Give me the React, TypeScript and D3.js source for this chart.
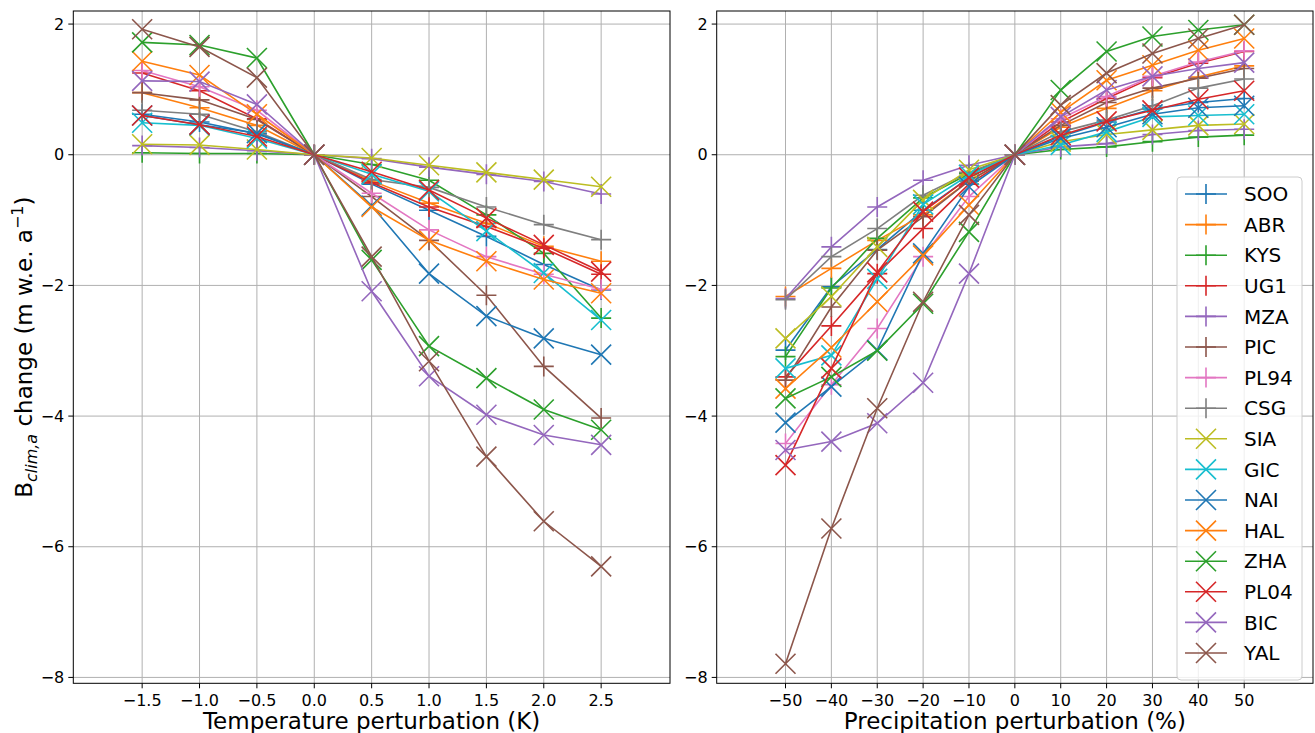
import * as d3 from "d3";

const stations = ["SOO", "ABR", "KYS", "UG1", "MZA", "PIC", "PL94", "CSG", "SIA", "GIC", "NAI", "HAL", "ZHA", "PL04", "BIC", "YAL"];
const markerKinds = ["+", "+", "+", "+", "+", "+", "+", "+", "x", "x", "x", "x", "x", "x", "x", "x"];
const palette = ["#1f77b4", "#ff7f0e", "#2ca02c", "#d62728", "#9467bd", "#8c564b", "#e377c2", "#7f7f7f", "#bcbd22", "#17becf"];

const tempSteps = [-1.5, -1.0, -0.5, 0, 0.5, 1.0, 1.5, 2.0, 2.5];
const precipSteps = [-50, -40, -30, -20, -10, 0, 10, 20, 30, 40, 50];
const yTicks = [-8, -6, -4, -2, 0, 2];

// temperature perturbation response per station
const tempSOO = [0.62, 0.5, 0.32, 0, -0.45, -0.85, -1.25, -1.68, -2.07];
const tempABR = [0.95, 0.72, 0.45, 0, -0.4, -0.74, -1.05, -1.4, -1.63];
const tempKYS = [0.03, 0.02, 0.02, 0, -0.15, -0.39, -0.92, -1.51, -2.5];
const tempUG1 = [1.25, 0.98, 0.55, 0, -0.43, -0.8, -1.1, -1.43, -1.83];
const tempMZA = [0.14, 0.11, 0.06, 0, -0.06, -0.19, -0.3, -0.41, -0.6];
const tempPIC = [0.95, 0.84, 0.54, 0, -0.64, -1.31, -2.15, -3.24, -4.03];
const tempPL94 = [1.29, 1.04, 0.68, 0, -0.59, -1.15, -1.56, -1.83, -2.06];
const tempCSG = [0.68, 0.62, 0.35, 0, -0.38, -0.5, -0.8, -1.07, -1.3];
const tempSIA = [0.16, 0.15, 0.08, 0, -0.05, -0.16, -0.27, -0.38, -0.49];
const tempGIC = [0.49, 0.45, 0.25, 0, -0.3, -0.56, -1.17, -1.81, -2.53];
const tempNAI = [0.6, 0.46, 0.33, 0, -0.78, -1.82, -2.47, -2.81, -3.06];
const tempHAL = [1.43, 1.22, 0.62, 0, -0.8, -1.31, -1.63, -1.91, -2.12];
const tempZHA = [1.72, 1.68, 1.48, 0, -1.61, -2.93, -3.42, -3.9, -4.21];
const tempPL04 = [0.6, 0.46, 0.28, 0, -0.26, -0.54, -0.97, -1.38, -1.79];
const tempBIC = [1.13, 1.12, 0.77, 0, -2.09, -3.39, -3.98, -4.29, -4.44];
const tempYAL = [1.92, 1.65, 1.18, 0, -1.56, -3.16, -4.62, -5.61, -6.3];

// precipitation perturbation response per station
const precSOO = [-2.99, -2.02, -1.45, -0.85, -0.35, 0, 0.28, 0.5, 0.7, 0.8, 0.86];
const precABR = [-2.17, -1.74, -1.31, -0.92, -0.4, 0, 0.42, 0.71, 0.98, 1.19, 1.36];
const precKYS = [-3.09, -2.04, -1.28, -0.66, -0.29, 0, 0.08, 0.12, 0.2, 0.27, 0.3];
const precUG1 = [-3.4, -2.62, -1.82, -1.13, -0.45, 0, 0.5, 0.86, 1.18, 1.4, 1.58];
const precMZA = [-2.2, -1.41, -0.8, -0.39, -0.16, 0, 0.12, 0.17, 0.31, 0.37, 0.39];
const precPIC = [-3.45, -2.33, -1.46, -0.95, -0.4, 0, 0.45, 0.8, 1.02, 1.17, 1.32];
const precPL94 = [-4.42, -3.52, -2.66, -1.56, -0.64, 0, 0.55, 0.89, 1.2, 1.42, 1.59];
const precCSG = [-2.22, -1.56, -1.13, -0.62, -0.27, 0, 0.35, 0.53, 0.75, 1.02, 1.16];
const precSIA = [-2.81, -2.17, -1.41, -0.69, -0.23, 0, 0.2, 0.31, 0.38, 0.45, 0.47];
const precGIC = [-3.27, -3.07, -1.9, -0.76, -0.31, 0, 0.15, 0.35, 0.58, 0.6, 0.62];
const precNAI = [-4.1, -3.55, -2.99, -1.51, -0.49, 0, 0.25, 0.42, 0.62, 0.72, 0.75];
const precHAL = [-3.58, -2.95, -2.25, -1.54, -0.77, 0, 0.65, 1.14, 1.37, 1.6, 1.78];
const precZHA = [-3.73, -3.4, -3.0, -2.28, -1.18, 0, 0.99, 1.58, 1.81, 1.91, 1.99];
const precPL04 = [-4.75, -3.27, -1.8, -0.87, -0.35, 0, 0.3, 0.51, 0.68, 0.85, 0.98];
const precBIC = [-4.52, -4.39, -4.11, -3.49, -1.82, 0, 0.58, 0.99, 1.2, 1.32, 1.41];
const precYAL = [-7.79, -5.72, -3.88, -2.25, -0.92, 0, 0.76, 1.25, 1.55, 1.78, 1.99];

const tempSeries = [tempSOO, tempABR, tempKYS, tempUG1, tempMZA, tempPIC, tempPL94, tempCSG, tempSIA, tempGIC, tempNAI, tempHAL, tempZHA, tempPL04, tempBIC, tempYAL];
const precSeries = [precSOO, precABR, precKYS, precUG1, precMZA, precPIC, precPL94, precCSG, precSIA, precGIC, precNAI, precHAL, precZHA, precPL04, precBIC, precYAL];

const W = 1315;
const H = 733;
const TOP = 11;
const BOTTOM = 683.3;
const FONT = "DejaVu Sans, sans-serif";
const MS = 10; // half marker size

const y = d3.scaleLinear().domain([-8.09, 2.2]).range([BOTTOM, TOP]);
const color = (i: number) => palette[i % palette.length];

function markerPath(kind: string, cx: number, cy: number) {
  if (kind === "+") return `M${cx - MS},${cy}H${cx + MS}M${cx},${cy - MS}V${cy + MS}`;
  return `M${cx - MS},${cy - MS}L${cx + MS},${cy + MS}M${cx - MS},${cy + MS}L${cx + MS},${cy - MS}`;
}

function Panel({ x, xs, series, xTicks, fmt, label }) {
  const [x0, x1] = x.range();
  const line = d3.line<number>().x((_, i) => x(xs[i])).y((v) => y(v));
  return (
    <g>
      {xTicks.map((t) => (
        <line key={"gx" + t} x1={x(t)} x2={x(t)} y1={TOP} y2={BOTTOM} stroke="#b0b0b0" strokeWidth={1} />
      ))}
      {yTicks.map((t) => (
        <line key={"gy" + t} x1={x0} x2={x1} y1={y(t)} y2={y(t)} stroke="#b0b0b0" strokeWidth={1} />
      ))}
      {series.map((vals, i) => (
        <g key={stations[i]} stroke={color(i)} fill="none" strokeWidth={1.6}>
          <path d={line(vals)} />
          {vals.map((v, j) => (
            <path key={j} d={markerPath(markerKinds[i], x(xs[j]), y(v))} />
          ))}
        </g>
      ))}
      <rect x={x0} y={TOP} width={x1 - x0} height={BOTTOM - TOP} fill="none" stroke="#000" strokeWidth={1} />
      {xTicks.map((t) => (
        <g key={"tx" + t}>
          <line x1={x(t)} x2={x(t)} y1={BOTTOM} y2={BOTTOM + 5} stroke="#000" />
          <text x={x(t)} y={706} textAnchor="middle" fontSize={16} fontFamily={FONT}>{fmt(t)}</text>
        </g>
      ))}
      {yTicks.map((t) => (
        <g key={"ty" + t}>
          <line x1={x0 - 5} x2={x0} y1={y(t)} y2={y(t)} stroke="#000" />
          <text x={x0 - 9} y={y(t)} dy="0.35em" textAnchor="end" fontSize={16} fontFamily={FONT}>{d3.format("d")(t)}</text>
        </g>
      ))}
      <text x={(x0 + x1) / 2} y={729} textAnchor="middle" fontSize={23} fontFamily={FONT}>{label}</text>
    </g>
  );
}

function Legend() {
  const left = 1177;
  const top = 177;
  const step = 30.6;
  return (
    <g>
      <rect x={left} y={top} width={125} height={503} rx={4} fill="#fff" fillOpacity={0.8} stroke="#cccccc" />
      {stations.map((name, i) => {
        const cy = 194 + i * step;
        return (
          <g key={name}>
            <g stroke={color(i)} strokeWidth={1.6} fill="none">
              <line x1={1185} x2={1227} y1={cy} y2={cy} />
              <path d={markerPath(markerKinds[i], 1206, cy)} />
            </g>
            <text x={1244} y={cy} dy="0.36em" fontSize={20} fontFamily={FONT}>{name}</text>
          </g>
        );
      })}
    </g>
  );
}

export default function App() {
  const xTemp = d3.scaleLinear().domain([-2.1, 3.1]).range([73.3, 670]);
  const xPrec = d3.scaleLinear().domain([-65, 65]).range([716.7, 1313]);
  return (
    <div style={{ position: "absolute", left: 0, top: 0 }}>
      <svg width={W} height={H} style={{ display: "block", background: "#fff" }}>
        <Panel x={xTemp} xs={tempSteps} series={tempSeries} xTicks={tempSteps} fmt={d3.format(".1f")} label="Temperature perturbation (K)" />
        <Panel x={xPrec} xs={precipSteps} series={precSeries} xTicks={precipSteps} fmt={d3.format("d")} label="Precipitation perturbation (%)" />
        <Legend />
        <text transform={`translate(32,${(TOP + BOTTOM) / 2}) rotate(-90)`} textAnchor="middle" fontSize={23} fontFamily={FONT}>
          B
          <tspan fontSize={16} fontStyle="italic" dy={5}>clim,a</tspan>
          <tspan dy={-5}> change (m w.e. a</tspan>
          <tspan fontSize={16} dy={-9}>−1</tspan>
          <tspan dy={9}>)</tspan>
        </text>
      </svg>
    </div>
  );
}
